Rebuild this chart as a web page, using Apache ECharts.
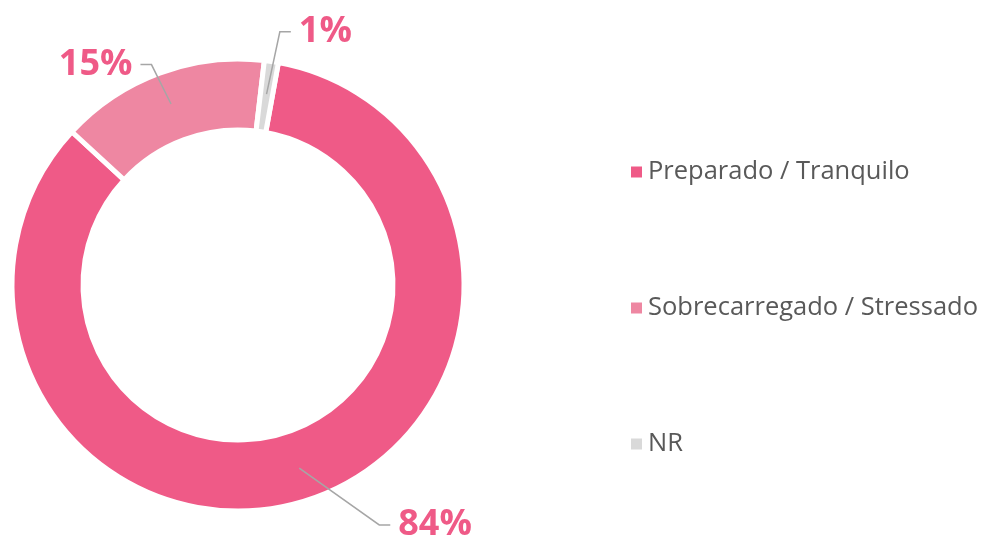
<!DOCTYPE html>
<html>
<head>
<meta charset="utf-8">
<script src="https://cdn.jsdelivr.net/npm/echarts@6/dist/echarts.min.js"></script>
<style>
  html, body { margin: 0; padding: 0; background: #ffffff; }
  #chart { width: 982px; height: 539px; }
</style>
</head>
<body>
<div id="chart"></div>
<script>
const categories = ['Preparado / Tranquilo', 'Sobrecarregado / Stressado', 'NR'];
const values = [84, 15, 1];
const colors = ['#EF5A87', '#EE87A2', '#D9D9D9'];
const lineLengths = [[27, 72], [9, 16], [30, 15]];

const CX = 238, CY = 285, R_IN = 155, R_OUT = 226, R_LINE = 193;

const chart = echarts.init(document.getElementById('chart'), null, { renderer: 'canvas' });

const sliceData = categories.map((name, i) => ({
  name: name,
  value: values[i],
  itemStyle: { color: colors[i] }
}));

const labelData = categories.map((name, i) => ({
  name: name,
  value: values[i],
  labelLine: { length: lineLengths[i][0], length2: lineLengths[i][1] }
}));

chart.setOption({
  animation: false,
  backgroundColor: '#ffffff',
  legend: {
    orient: 'vertical',
    left: 626,
    top: 152,
    itemWidth: 11,
    itemHeight: 11,
    itemGap: 106,
    icon: 'rect',
    data: categories,
    itemStyle: { borderWidth: 0, borderColor: 'rgba(0,0,0,0)' },
    textStyle: {
      fontFamily: 'Open Sans',
      fontSize: 25.5,
      lineHeight: 30,
      color: '#595959',
      padding: [0, 0, 0, 1]
    }
  },
  series: [{
    type: 'pie',
    z: 2,
    center: [CX, CY],
    radius: [R_IN, R_OUT],
    startAngle: 79.7,
    clockwise: true,
    silent: true,
    itemStyle: { borderColor: '#ffffff', borderWidth: 5 },
    label: { show: false },
    labelLine: { show: false },
    emphasis: { disabled: true },
    data: sliceData
  }, {
    type: 'pie',
    z: 5,
    center: [CX, CY],
    radius: [R_IN, R_OUT],
    startAngle: 79.7,
    clockwise: true,
    silent: true,
    avoidLabelOverlap: false,
    itemStyle: { color: 'rgba(0,0,0,0)', borderWidth: 0 },
    label: {
      show: true,
      position: 'outside',
      formatter: p => p.value + '%',
      fontFamily: 'Open Sans',
      fontWeight: 'bold',
      fontSize: 36,
      color: '#EF5A87',
      distanceToLabelLine: 8
    },
    labelLine: {
      show: true,
      lineStyle: { color: '#A6A6A6', width: 1.5 }
    },
    labelLayout: function (params) {
      const pts = params.labelLinePoints;
      if (!pts || pts.length < 3) return {};
      const p0 = pts[0], p2 = pts[2];
      const k = R_LINE / R_OUT;
      const start = [CX + (p0[0] - CX) * k, CY + (p0[1] - CY) * k];
      const dir = p2[0] >= pts[1][0] ? 1 : -1;
      const elbow = [p2[0] - dir * 11, p2[1]];
      return { labelLinePoints: [start, elbow, p2] };
    },
    emphasis: { disabled: true },
    data: labelData
  }]
});
</script>
</body>
</html>
